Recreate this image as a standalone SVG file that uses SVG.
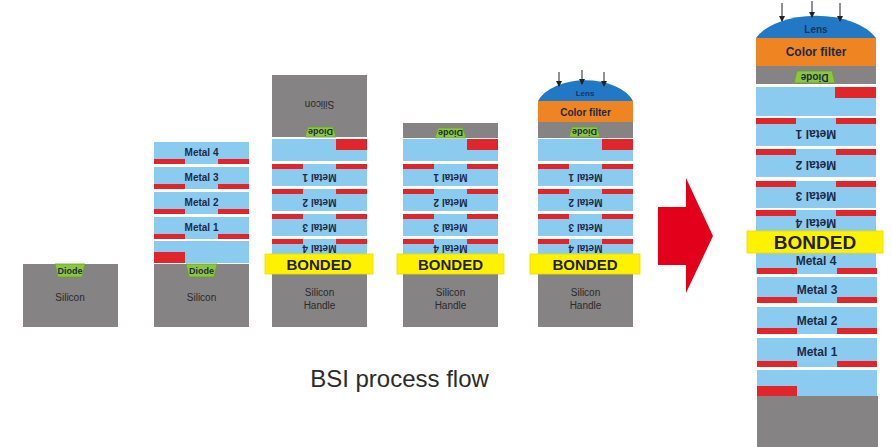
<svg xmlns="http://www.w3.org/2000/svg" xmlns:xlink="http://www.w3.org/1999/xlink" width="892" height="447" viewBox="0 0 892 447">
  <style>
    .si { fill: #858384; }
    .ild { fill: #8ccbf0; }
    .m { fill: #e0262a; }
    .bond { fill: #fff200; stroke: #e8dc00; stroke-width: 0.8; }
    .diode { fill: #8cc63f; stroke: #6a9f2a; stroke-width: 0.8; }
    .cf { fill: #ef8423; }
    .lens { fill: #2179c6; }
    .t { font-family: "Liberation Sans", Arial, sans-serif; font-weight: bold; fill: #1d2a45; text-anchor: middle; dominant-baseline: central; }
    .s9 { font-size: 9px; }
    .s10 { font-size: 10px; }
    .s12 { font-size: 12px; }
    .bt { font-family: "Liberation Sans", Arial, sans-serif; font-weight: bold; fill: #231f20; text-anchor: middle; dominant-baseline: central; }
    .ray { stroke: #222; stroke-width: 1; fill: none; marker-end: url(#tip); }
  </style>
  <defs>
    <marker id="tip" viewBox="0 0 6 6" refX="5" refY="3" markerWidth="6" markerHeight="6" markerUnits="userSpaceOnUse" orient="auto">
      <path d="M0,0 L6,3 L0,6 Z" fill="#222"/>
    </marker>
    <!-- flipped interconnect layers of a 95px wide wafer (wafer turned upside down) -->
    <g id="flipLayers">
      <rect class="ild" x="0" y="139" width="95" height="22"/>
      <rect class="m" x="64" y="139" width="31" height="11"/>
      <rect class="ild" x="0" y="164" width="95" height="22"/>
      <rect class="m" x="0" y="164" width="31" height="5"/>
      <rect class="m" x="64" y="164" width="31" height="5"/>
      <text class="t s10" x="47.5" y="177" transform="rotate(180 47.5 177)">Metal 1</text>
      <rect class="ild" x="0" y="189" width="95" height="22"/>
      <rect class="m" x="0" y="189" width="31" height="5"/>
      <rect class="m" x="64" y="189" width="31" height="5"/>
      <text class="t s10" x="47.5" y="202" transform="rotate(180 47.5 202)">Metal 2</text>
      <rect class="ild" x="0" y="214" width="95" height="22"/>
      <rect class="m" x="0" y="214" width="31" height="5"/>
      <rect class="m" x="64" y="214" width="31" height="5"/>
      <text class="t s10" x="47.5" y="227" transform="rotate(180 47.5 227)">Metal 3</text>
      <rect class="ild" x="0" y="239" width="95" height="22"/>
      <rect class="m" x="0" y="239" width="31" height="5"/>
      <rect class="m" x="64" y="239" width="31" height="5"/>
      <text class="t s10" x="47.5" y="248.5" transform="rotate(180 47.5 248.5)">Metal 4</text>
      <rect class="si" x="0" y="274" width="95" height="53"/>
      <text class="t s10" x="47.5" y="292" style="font-weight:normal;fill:#2a2a2a">Silicon</text>
      <text class="t s10" x="47.5" y="305" style="font-weight:normal;fill:#2a2a2a">Handle</text>
    </g>
  </defs>

  <!-- step 1: bare silicon with photodiode -->
  <g id="step1">
    <rect class="si" x="23" y="264" width="95" height="63"/>
    <path class="diode" d="M55,264 L85,264 L82,277 L58,277 Z"/>
    <text class="t s9" x="70" y="270.5">Diode</text>
    <text class="t s10" x="70" y="297" style="font-weight:normal;fill:#2a2a2a">Silicon</text>
  </g>

  <!-- step 2: front-side metal stack -->
  <g id="step2">
    <rect class="ild" x="154" y="142" width="95" height="22"/>
    <rect class="m" x="154" y="159" width="31" height="5"/>
    <rect class="m" x="218" y="159" width="31" height="5"/>
    <text class="t s10" x="201.5" y="152">Metal 4</text>
    <rect class="ild" x="154" y="167" width="95" height="22"/>
    <rect class="m" x="154" y="184" width="31" height="5"/>
    <rect class="m" x="218" y="184" width="31" height="5"/>
    <text class="t s10" x="201.5" y="177">Metal 3</text>
    <rect class="ild" x="154" y="192" width="95" height="22"/>
    <rect class="m" x="154" y="209" width="31" height="5"/>
    <rect class="m" x="218" y="209" width="31" height="5"/>
    <text class="t s10" x="201.5" y="202">Metal 2</text>
    <rect class="ild" x="154" y="217" width="95" height="22"/>
    <rect class="m" x="154" y="234" width="31" height="5"/>
    <rect class="m" x="218" y="234" width="31" height="5"/>
    <text class="t s10" x="201.5" y="227">Metal 1</text>
    <rect class="ild" x="154" y="241" width="95" height="22"/>
    <rect class="m" x="154" y="252" width="31" height="11"/>
    <rect class="si" x="154" y="264" width="95" height="63"/>
    <path class="diode" d="M186,264 L217,264 L214,277 L189,277 Z"/>
    <text class="t s9" x="201.5" y="270.5">Diode</text>
    <text class="t s10" x="201.5" y="297" style="font-weight:normal;fill:#2a2a2a">Silicon</text>
  </g>

  <!-- step 3: flipped and bonded to handle wafer -->
  <g id="step3">
    <rect class="si" x="272" y="75" width="95" height="62"/>
    <text class="t s10" x="319.5" y="104" transform="rotate(180 319.5 104)" style="font-weight:normal;fill:#2a2a2a">Silicon</text>
    <path class="diode" d="M308,127 L333,127 L336,137 L305,137 Z"/>
    <text class="t s9" x="320.5" y="132" transform="rotate(180 320.5 132)">Diode</text>
    <use xlink:href="#flipLayers" transform="translate(272 0)"/>
    <rect class="bond" x="265" y="254" width="108" height="20"/>
    <text class="bt" x="319" y="264.5" font-size="15">BONDED</text>
  </g>

  <!-- step 4: backside thinned -->
  <g id="step4">
    <rect class="si" x="403" y="123" width="95" height="15"/>
    <path class="diode" d="M438,128 L463,128 L466,138 L435,138 Z"/>
    <text class="t s9" x="450.5" y="133" transform="rotate(180 450.5 133)">Diode</text>
    <use xlink:href="#flipLayers" transform="translate(403 0)"/>
    <rect class="bond" x="397" y="254" width="107" height="20"/>
    <text class="bt" x="450.5" y="264.5" font-size="15">BONDED</text>
  </g>

  <!-- step 5: color filter and micro lens -->
  <g id="step5">
    <path class="lens" d="M538,101 A50,30 0 0 1 633,101 Z"/>
    <text class="t" x="585" y="93" font-size="8" style="fill:#17355e">Lens</text>
    <rect class="cf" x="538" y="101" width="95" height="21"/>
    <text class="t s10" x="585.5" y="112">Color filter</text>
    <rect class="si" x="538" y="122" width="95" height="16"/>
    <path class="diode" d="M572,127 L597,127 L600,137 L569,137 Z"/>
    <text class="t s9" x="584.5" y="132" transform="rotate(180 584.5 132)">Diode</text>
    <use xlink:href="#flipLayers" transform="translate(538 0)"/>
    <rect class="bond" x="530" y="254" width="110" height="20"/>
    <text class="bt" x="585" y="264.5" font-size="15">BONDED</text>
    <line class="ray" x1="559" y1="72" x2="559" y2="86"/>
    <line class="ray" x1="582" y1="70" x2="582" y2="84"/>
    <line class="ray" x1="604" y1="72" x2="604" y2="86"/>
  </g>

  <!-- transition arrow -->
  <g id="flow-arrow">
    <path d="M658,207 L686,207 L686,178 L713,236 L686,293 L686,265 L658,265 Z" fill="#e3001b"/>
  </g>

  <!-- enlarged BSI cross-section -->
  <g id="bsi-detail">
    <path class="lens" d="M756,38 A64,34 0 0 1 876,38 Z"/>
    <text class="t" x="816" y="29" font-size="10" style="fill:#17355e">Lens</text>
    <line class="ray" x1="782" y1="3" x2="782" y2="21"/>
    <line class="ray" x1="812" y1="1" x2="812" y2="17"/>
    <line class="ray" x1="840" y1="3" x2="840" y2="21"/>
    <rect class="cf" x="756" y="38" width="120" height="28"/>
    <text class="t s12" x="816" y="52">Color filter</text>
    <rect class="si" x="756" y="66" width="120" height="18"/>
    <path class="diode" d="M797,71 L832,71 L835,83 L794,83 Z"/>
    <text class="t s10" x="814.5" y="77" transform="rotate(180 814.5 77)">Diode</text>

    <rect class="ild" x="756" y="87" width="120" height="29"/>
    <rect class="m" x="835" y="87" width="41" height="11"/>

    <rect class="ild" x="756" y="118" width="120" height="28"/>
    <rect class="m" x="756" y="118" width="40" height="6"/>
    <rect class="m" x="836" y="118" width="40" height="6"/>
    <text class="t s12" x="816" y="134" transform="rotate(180 816 134)">Metal 1</text>

    <rect class="ild" x="756" y="149" width="120" height="28"/>
    <rect class="m" x="756" y="149" width="40" height="6"/>
    <rect class="m" x="836" y="149" width="40" height="6"/>
    <text class="t s12" x="816" y="165" transform="rotate(180 816 165)">Metal 2</text>

    <rect class="ild" x="756" y="181" width="120" height="27"/>
    <rect class="m" x="756" y="181" width="40" height="6"/>
    <rect class="m" x="836" y="181" width="40" height="6"/>
    <text class="t s12" x="816" y="196" transform="rotate(180 816 196)">Metal 3</text>

    <rect class="ild" x="756" y="210" width="120" height="64"/>
    <rect class="m" x="756" y="210" width="40" height="6"/>
    <rect class="m" x="836" y="210" width="40" height="6"/>
    <text class="t s12" x="816" y="223" transform="rotate(180 816 223)">Metal 4</text>

    <rect class="bond" x="747" y="231" width="136" height="22"/>
    <text class="bt" x="815" y="242.5" font-size="19">BONDED</text>

    <text class="t s12" x="816" y="261">Metal 4</text>
    <rect class="m" x="757" y="268" width="40" height="6"/>
    <rect class="m" x="837" y="268" width="40" height="6"/>

    <rect class="ild" x="757" y="277" width="120" height="26"/>
    <text class="t s12" x="817" y="290">Metal 3</text>
    <rect class="m" x="757" y="297" width="40" height="6"/>
    <rect class="m" x="837" y="297" width="40" height="6"/>

    <rect class="ild" x="757" y="307" width="120" height="27"/>
    <text class="t s12" x="817" y="321">Metal 2</text>
    <rect class="m" x="757" y="328" width="40" height="6"/>
    <rect class="m" x="837" y="328" width="40" height="6"/>

    <rect class="ild" x="757" y="338" width="120" height="29"/>
    <text class="t s12" x="817" y="352">Metal 1</text>
    <rect class="m" x="757" y="361" width="40" height="6"/>
    <rect class="m" x="837" y="361" width="40" height="6"/>

    <rect class="ild" x="757" y="370" width="120" height="26"/>
    <rect class="m" x="757" y="386" width="40" height="10"/>

    <rect class="si" x="757" y="396" width="121" height="51"/>
  </g>

  <text x="399.5" y="387" font-family="'Liberation Sans', Arial, sans-serif" font-size="24" fill="#2b2b2b" text-anchor="middle">BSI process flow</text>
</svg>
